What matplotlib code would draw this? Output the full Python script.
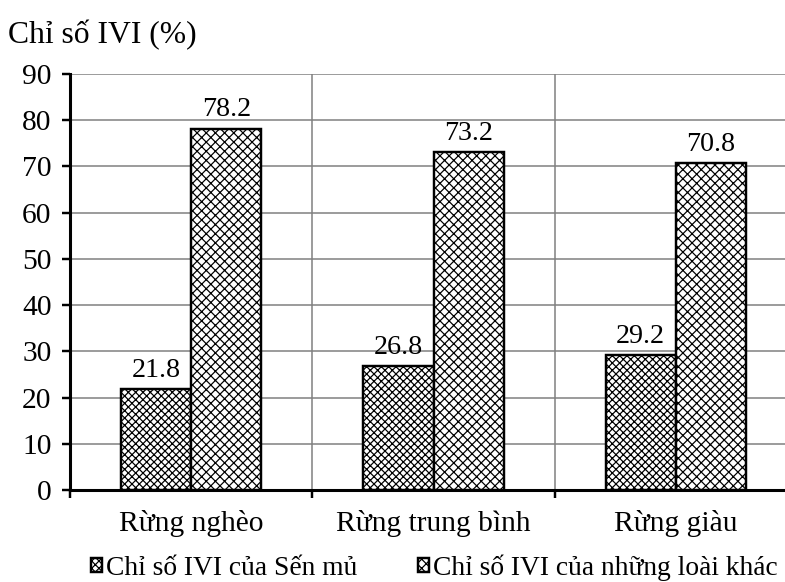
import numpy as np
import matplotlib
matplotlib.use('Agg')
import matplotlib.pyplot as plt

# du lieu
categories = ['Rừng nghèo', 'Rừng trung bình', 'Rừng giàu']
sen_mu = [21.8, 26.8, 29.2]
loai_khac = [78.2, 73.2, 70.8]
series_names = ['Chỉ số IVI của Sến mủ', 'Chỉ số IVI của những loài khác']
yticks = list(range(0, 91, 10))

plt.rcParams['font.family'] = ['Liberation Serif', 'DejaVu Serif']
plt.rcParams['hatch.linewidth'] = 0.8
plt.rcParams['hatch.color'] = '#505050'

DPI = 110
fig = plt.figure(figsize=(785 / DPI, 582 / DPI), dpi=DPI)
ax = fig.add_axes([70 / 785, 92 / 582, 727 / 785, 416 / 582])

x = np.arange(len(categories))
w = 0.29
b1 = ax.bar(x - w / 2, sen_mu, w, color='white', edgecolor='black',
            linewidth=1.6, hatch='xxxxx', label=series_names[0], zorder=3)
b2 = ax.bar(x + w / 2, loai_khac, w, color='white', edgecolor='black',
            linewidth=1.6, hatch='xxxx', label=series_names[1], zorder=3)

for bars, vals in [(b1, sen_mu), (b2, loai_khac)]:
    for r, v in zip(bars, vals):
        ax.annotate('{:.1f}'.format(v), (r.get_x() + r.get_width() / 2, v),
                    xytext=(0, 4), textcoords='offset points',
                    ha='center', va='bottom', fontsize=18.3)

ax.set_xlim(-0.5, 2.5)
ax.set_ylim(0, 90)
ax.set_yticks(yticks)
ax.set_xticks([-0.5, 0.5, 1.5, 2.5])
ax.set_xticklabels([])
ax.set_xticks(x, minor=True)
ax.set_xticklabels(categories, minor=True, fontsize=19.3)
ax.tick_params(axis='x', which='minor', length=0, pad=13)
ax.tick_params(axis='x', which='major', direction='out', length=5, width=1.6)
ax.tick_params(axis='y', direction='out', length=5, width=1.6, labelsize=19.3, pad=7)

ax.grid(True, axis='both', which='major', color='#808080', linewidth=1.0, zorder=0)
ax.set_axisbelow(True)
for s in ['top', 'right']:
    ax.spines[s].set_visible(False)
for s in ['left', 'bottom']:
    ax.spines[s].set_linewidth(2.0)
    ax.spines[s].set_zorder(4)

fig.text(8 / 785, 1 - 35 / 582, 'Chỉ số IVI (%)', fontsize=20.7, va='center', ha='left')

fig.legend(handles=[b1, b2], loc='center', bbox_to_anchor=(434 / 785, 1 - 568 / 582),
           ncol=2, frameon=False, fontsize=18, handlelength=0.4, handleheight=0.4,
           handletextpad=0.15, columnspacing=2.2, borderaxespad=0)

fig.savefig('out.png', dpi=DPI)
